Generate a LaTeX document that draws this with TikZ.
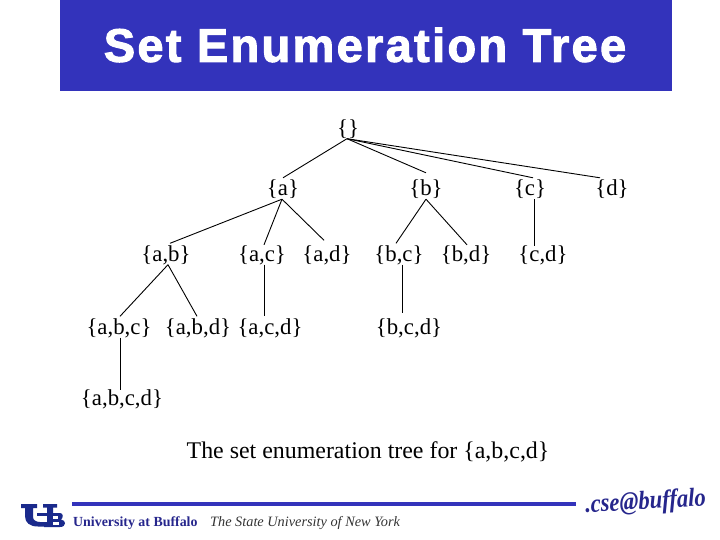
\documentclass[tikz,border=0pt]{standalone}
\usepackage{fontspec}
\setmainfont{Liberation Serif}
\newfontfamily\titlefont[LetterSpace=4.9,BoldFeatures={FakeBold=2.2}]{Liberation Sans}
\usetikzlibrary{calc}
\definecolor{ubblue}{HTML}{3333BB}
\definecolor{ubdark}{HTML}{26268C}
\definecolor{logoblue}{HTML}{1A2A8C}
\tikzset{
  setnode/.style={inner sep=0pt,text height=18pt,text depth=3pt,font=\fontsize{22.8}{24}\selectfont},
  edge/.style={draw=black,line width=0.9pt},
  logo/.style={fill=logoblue,draw=none}
}
\begin{document}
\begin{tikzpicture}[x=1pt,y=-1pt]
\useasboundingbox (0,0) rectangle (720,540);
\fill[ubblue] (60,0) rectangle (672,91);
\node[text=white,font=\titlefont\bfseries\fontsize{47}{50}\selectfont,inner sep=0pt] (title) at (365,45) {Set Enumeration Tree};
% nodes
\node[setnode] (r) at (348,128) {\{\}};
\node[setnode] (a) at (283,188.5) {\{a\}};
\node[setnode] (b) at (426,188.5) {\{b\}};
\node[setnode] (c) at (530,188.5) {\{c\}};
\node[setnode] (d) at (612,188.5) {\{d\}};
\node[setnode] (ab) at (166,254) {\{a,b\}};
\node[setnode] (ac) at (262,254) {\{a,c\}};
\node[setnode] (ad) at (327,254) {\{a,d\}};
\node[setnode] (bc) at (399,254) {\{b,c\}};
\node[setnode] (bd) at (466,254) {\{b,d\}};
\node[setnode] (cd) at (543,254) {\{c,d\}};
\node[setnode] (abc) at (119,327) {\{a,b,c\}};
\node[setnode] (abd) at (198,327) {\{a,b,d\}};
\node[setnode] (acd) at (270,327) {\{a,c,d\}};
\node[setnode] (bcd) at (409,327) {\{b,c,d\}};
\node[setnode] (abcd) at (122,398) {\{a,b,c,d\}};
\node[font=\fontsize{23.9}{25}\selectfont,inner sep=0pt] (cap) at (368,452) {The set enumeration tree for \{a,b,c,d\}};
% edges
\draw[edge] ([xshift=-1pt]r.south) -- (a.north);
\draw[edge] ([xshift=-1pt]r.south) -- ([yshift=5pt]b.north);
\draw[edge] ([xshift=-1pt]r.south) -- ([xshift=3pt]c.north);
\draw[edge] ([xshift=-1pt]r.south) -- ([xshift=-12pt]d.north);
\draw[edge] ([xshift=-1pt]a.south) -- ([xshift=4pt]ab.north);
\draw[edge] ([xshift=-1pt]a.south) -- ([xshift=2pt,yshift=-1.5pt]ac.north);
\draw[edge] ([xshift=-1pt]a.south) -- ([xshift=-3pt,yshift=3pt]ad.north);
\draw[edge] (b.south) -- ([xshift=-3pt]bc.north);
\draw[edge] (b.south) -- ([xshift=1pt,yshift=-1.5pt]bd.north);
\draw[edge] ([xshift=4pt]c.south) -- ([xshift=-9pt,yshift=-2.5pt]cd.north);
\draw[edge] ([xshift=2pt]ab.south) -- ([xshift=1pt]abc.north);
\draw[edge] ([xshift=2pt]ab.south) -- ([xshift=-1pt]abd.north);
\draw[edge] ([xshift=2pt]ac.south) -- ([xshift=-6pt]acd.north);
\draw[edge] ([xshift=3pt]bc.south) -- ([xshift=-7pt,yshift=3.5pt]bcd.north);
\draw[edge] ([xshift=1pt]abc.south) -- ([xshift=-2pt,yshift=-2.5pt]abcd.north);
% footer
\fill[ubblue] (72,502) rectangle (576,506);
\node[font=\bfseries\fontsize{13.9}{15}\selectfont,text=ubdark,anchor=west,inner sep=0pt] (ub) at (73,523) {University at Buffalo};
\node[font=\itshape\fontsize{14.3}{15}\selectfont,text=black!80,anchor=west,inner sep=0pt] (suny) at (210,523.5) {The State University of New York};
\node[font=\itshape\bfseries\fontsize{26}{28}\selectfont,text=ubdark,anchor=west,inner sep=0pt,rotate=3,xscale=0.87] (cse) at (585,506) {.cse@buffalo};
% UB logo
\fill[logo] (21,504) -- (37,504) -- (37,508) -- (33,508) -- (33,517) .. controls (33,520) and (36,522) .. (40,522) -- (47,522) -- (47,526.5) -- (38,526.5) .. controls (30,526.5) and (25,523) .. (25,516) -- (25,508) -- (21,508) -- cycle;
\fill[logo] (43,504) -- (57,504) -- (57,507.5) -- (53,507.5) -- (53,513) -- (60,513) .. controls (63.5,513) and (63.5,518) .. (61,519.5) .. controls (66.5,520) and (66.5,527) .. (60,527) -- (44,527) -- (44,523.5) -- (47,523.5) -- (47,507.5) -- (43,507.5) -- cycle;
\fill[white] (53,516) rectangle (58,518.5);
\fill[white] (53,521.5) rectangle (59,524.5);
\fill[logo] (37,513) rectangle (47,516);
\end{tikzpicture}
\end{document}
